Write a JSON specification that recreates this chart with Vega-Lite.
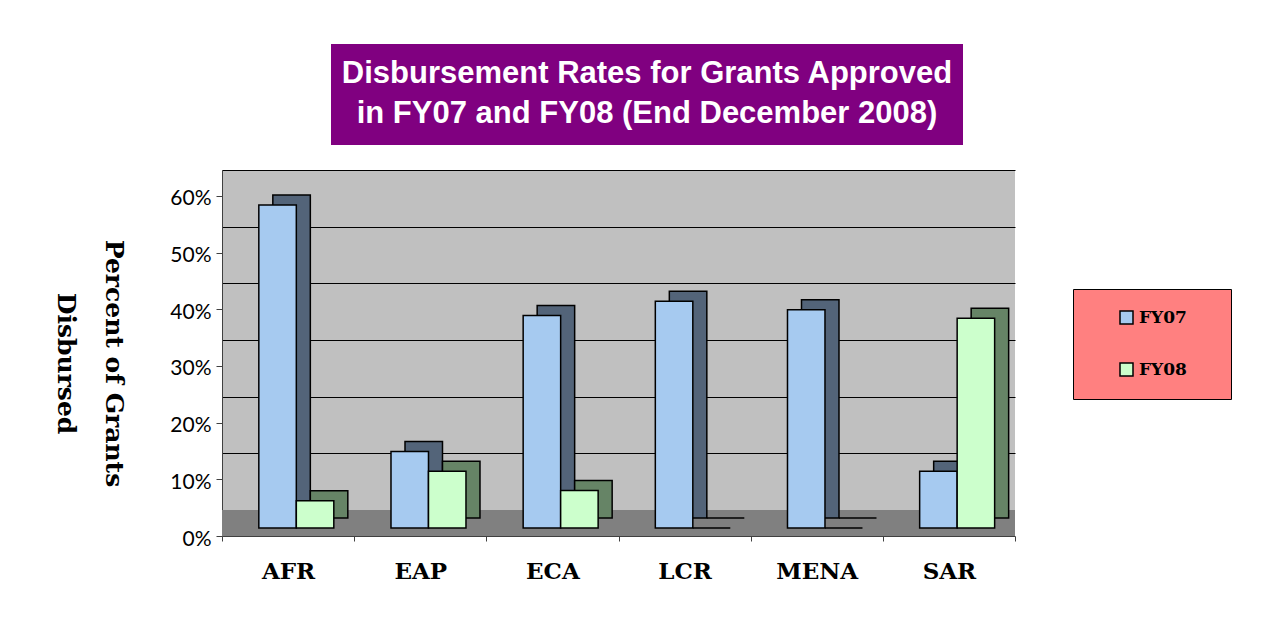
{
  "$schema": "https://vega.github.io/schema/vega-lite/v6.json",
  "background": "white",
  "padding": {"left": 52, "top": 44, "right": 0, "bottom": 0},
  "spacing": 25,
  "center": false,
  "config": {
    "view": {"stroke": null},
    "axisX": {
      "title": null,
      "labelFont": "DejaVu Serif",
      "labelFontSize": 23,
      "labelFontWeight": "bold",
      "labelColor": "black",
      "labelAngle": 0,
      "tickBand": "extent",
      "tickSize": 5,
      "labelPadding": 19,
      "domainColor": "#404040",
      "tickColor": "#404040",
      "grid": false
    }
  },
  "vconcat": [
    {
      "spacing": 10,
      "hconcat": [
        {
          "width": 99,
          "height": 101,
          "data": {"values": [{"k": 1}]},
          "mark": {"type": "text", "opacity": 0},
          "encoding": {"text": {"value": ""}}
        },
        {
          "width": 632,
          "height": 101,
          "view": {"fill": "#800080", "stroke": null},
          "data": {"values": [{"k": 1}]},
          "mark": {
            "type": "text",
            "font": "Liberation Sans",
            "fontWeight": "bold",
            "fontSize": 31,
            "color": "white",
            "lineHeight": 40,
            "baseline": "middle",
            "align": "center",
            "dy": -21
          },
          "encoding": {
            "text": {"value": ["Disbursement Rates for Grants Approved", " in FY07 and FY08 (End December 2008)"]}
          }
        }
      ]
    },
    {
      "width": 793,
      "height": 366,
      "view": {"fill": "#C0C0C0", "stroke": null},
      "data": {
        "values": [
          {"region": "AFR", "series": "FY07", "rate": 0.57},
          {"region": "AFR", "series": "FY08", "rate": 0.048},
          {"region": "EAP", "series": "FY07", "rate": 0.135},
          {"region": "EAP", "series": "FY08", "rate": 0.10},
          {"region": "ECA", "series": "FY07", "rate": 0.375},
          {"region": "ECA", "series": "FY08", "rate": 0.066},
          {"region": "LCR", "series": "FY07", "rate": 0.40},
          {"region": "LCR", "series": "FY08", "rate": 0},
          {"region": "MENA", "series": "FY07", "rate": 0.385},
          {"region": "MENA", "series": "FY08", "rate": 0},
          {"region": "SAR", "series": "FY07", "rate": 0.10},
          {"region": "SAR", "series": "FY08", "rate": 0.37}
        ]
      },
      "resolve": {"axis": {"y": "independent"}, "scale": {"xOffset": "independent"}},
      "layer": [
        {
          "mark": {"type": "rule", "color": "#808080", "strokeWidth": 26, "yOffset": -13},
          "encoding": {
            "y": {"datum": 0, "type": "quantitative", "scale": {"domain": [0, 0.645882], "nice": false}, "axis": null}
          }
        },
        {
          "mark": {"type": "bar", "stroke": "black", "strokeWidth": 1.5, "yOffset": -18, "y2Offset": -18},
          "encoding": {
            "x": {"field": "region", "type": "nominal", "sort": ["AFR", "EAP", "ECA", "LCR", "MENA", "SAR"], "scale": {"paddingInner": 0, "paddingOuter": 0}},
            "xOffset": {"field": "series", "type": "nominal", "sort": ["FY07", "FY08"], "scale": {"paddingInner": 0, "paddingOuter": 0.7625, "align": 0.889}},
            "y": {
              "field": "rate",
              "type": "quantitative",
              "scale": {"domain": [0, 0.645882], "nice": false},
              "axis": {
                "orient": "right",
                "values": [0.1, 0.2, 0.3, 0.4, 0.5, 0.6],
                "grid": true,
                "gridColor": "black",
                "gridWidth": 1,
                "tickOffset": -26,
                "labels": false,
                "ticks": false,
                "domain": false,
                "title": null
              }
            },
            "fill": {
              "condition": {"test": "datum.series === 'FY07'", "value": "#536479"},
              "value": "#668466"
            }
          }
        },
        {
          "mark": {"type": "bar", "stroke": "black", "strokeWidth": 1.5, "yOffset": -8, "y2Offset": -8},
          "encoding": {
            "x": {"field": "region", "type": "nominal", "sort": ["AFR", "EAP", "ECA", "LCR", "MENA", "SAR"], "scale": {"paddingInner": 0, "paddingOuter": 0}},
            "xOffset": {"field": "series", "type": "nominal", "sort": ["FY07", "FY08"], "scale": {"paddingInner": 0, "paddingOuter": 0.7625, "align": 0.644}},
            "y": {
              "field": "rate",
              "type": "quantitative",
              "scale": {"domain": [0, 0.645882], "nice": false},
              "axis": {
                "orient": "left",
                "values": [0, 0.1, 0.2, 0.3, 0.4, 0.5, 0.6],
                "format": ".0%",
                "grid": false,
                "domainColor": "#404040",
                "tickColor": "#404040",
                "tickSize": 6,
                "labelPadding": 5,
                "labelFont": "Lato",
                "labelFontSize": 21,
                "labelColor": "black",
                "labelOffset": 3,
                "title": ["Percent of Grants", "Disbursed"],
                "titleFont": "DejaVu Serif",
                "titleFontSize": 25,
                "titleFontWeight": "bold",
                "titleColor": "black",
                "titleAngle": 90,
                "titleBaseline": "top",
                "titleAlign": "center",
                "titleX": -97,
                "titleY": 193,
                "titleLineHeight": 48
              }
            },
            "color": {
              "field": "series",
              "type": "nominal",
              "scale": {"domain": ["FY07", "FY08"], "range": ["#A6CAF0", "#CCFFCC"]},
              "legend": {
                "orient": "none",
                "legendX": 851,
                "legendY": 245,
                "title": "\u00a0",
                "titleOrient": "right",
                "titlePadding": 24,
                "titleFontSize": 17,
                "titleColor": "#FF8080",
                "fillColor": "#FF8080",
                "strokeColor": "black",
                "padding": 20,
                "rowPadding": 33,
                "symbolType": "square",
                "symbolSize": 169,
                "symbolStrokeColor": "black",
                "symbolStrokeWidth": 1.5,
                "symbolOffset": 25,
                "labelOffset": 4,
                "labelFont": "DejaVu Serif",
                "labelFontSize": 17,
                "labelFontWeight": "bold",
                "labelColor": "black"
              }
            }
          }
        }
      ]
    }
  ]
}
